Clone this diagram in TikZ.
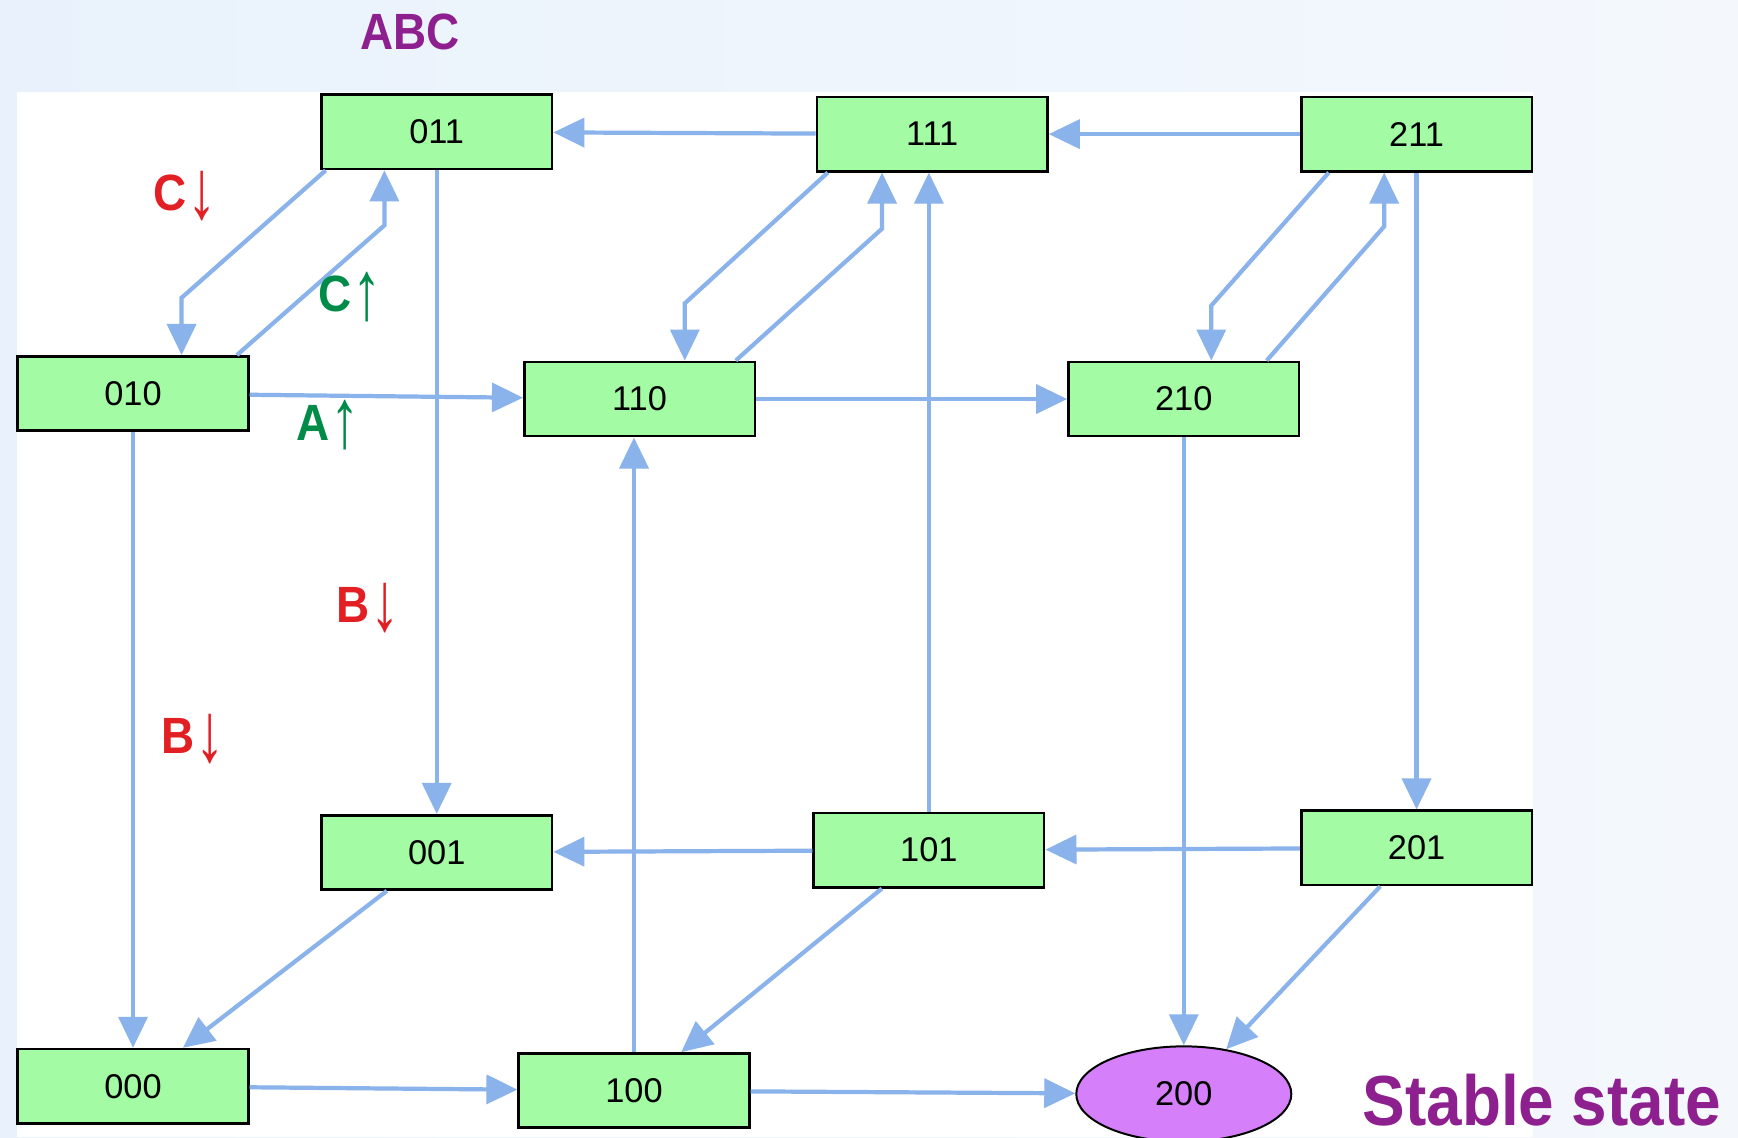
\documentclass[tikz,border=0pt]{standalone}
\usepackage{fontspec}
\usepackage{graphicx}
\setmainfont{Liberation Sans}
\newfontfamily\lblfont{Liberation Sans}[FakeStretch=0.9]
\newfontfamily\arrowfont{Liberation Sans}
\usetikzlibrary{arrows.meta,calc,shapes.geometric}
\definecolor{boxgreen}{RGB}{163,251,163}
\definecolor{stablepurple}{RGB}{213,128,250}
\definecolor{edgeblue}{RGB}{138,178,235}
\definecolor{titlepurple}{RGB}{142,31,142}
\definecolor{lblred}{RGB}{226,32,36}
\definecolor{lblgreen}{RGB}{0,140,72}
\definecolor{bgleft}{RGB}{233,242,252}
\definecolor{bgright}{RGB}{244,248,253}
\newcommand{\arr}[1]{\hspace{0.02em}\raisebox{-3.5pt}{\scalebox{1.15}[1.65]{\arrowfont\mdseries #1}}}
\begin{document}
\begin{tikzpicture}[x=0.5pt,y=-0.5pt,
  state/.style={rectangle, draw=black, line width=1.2pt, fill=boxgreen,
    minimum width=104pt, minimum height=33.5pt, inner sep=0pt,
    font=\fontsize{15.5}{18}\selectfont},
  stable/.style={ellipse, draw=black, line width=0.9pt, fill=stablepurple,
    minimum width=97pt, minimum height=43pt, inner sep=0pt,
    font=\fontsize{15.5}{18}\selectfont},
  edge/.style={draw=edgeblue, line width=1.9pt,
    -{Triangle[length=14pt,width=13pt]}},
  lbl/.style={inner sep=0pt, anchor=base west,
    font=\lblfont\bfseries\fontsize{23}{27}\selectfont},
  bigl/.style={inner sep=0pt, anchor=base west, text=titlepurple,
    font=\lblfont\bfseries\fontsize{32}{36}\selectfont}
]
\fill[left color=bgleft, right color=bgright] (0,0) rectangle (1568,1026);
\useasboundingbox (0,0) rectangle (1568,1026);
\fill[white] (15,83) rectangle (1383,1026);

% nodes
\node[state] (n011) at (394,119) {011};
\node[state] (n111) at (841,121) {111};
\node[state] (n211) at (1278,121) {211};
\node[state] (n010) at (120,355) {010};
\node[state] (n110) at (577,360) {110};
\node[state] (n210) at (1068,360) {210};
\node[state] (n001) at (394,769) {001};
\node[state] (n101) at (838,767) {101};
\node[state] (n201) at (1278,765) {201};
\node[state] (n000) at (120,980) {000};
\node[state] (n100) at (572,984) {100};
\node[stable] (n200) at (1068,987) {200};

% straight edges
\draw[edge] (n111) -- (n011);
\draw[edge] (n211) -- (n111);
\draw[edge] (n010) -- (n110);
\draw[edge] (n110) -- (n210);
\draw[edge] (n101) -- (n001);
\draw[edge] (n201) -- (n101);
\draw[edge] (n000) -- (n100);
\draw[edge] (n100) -- (n200);
\draw[edge] (n011) -- (n001);
\draw[edge] (n010) -- (n000);
\draw[edge] (n211) -- (n201);
\draw[edge] (n210) -- (n200);
\draw[edge] (n100.north) -- (n100.north |- n110.south);
\draw[edge] (n101.north) -- (n101.north |- n111.south);
\draw[edge] (n001) -- (n000);
\draw[edge] (n101) -- (n100);
\draw[edge] (n201) -- (n200);

% bent edges
\draw[edge] ($(n011.south west)+(5,0)$) -- ++(-130,115) -- ($(n010.north west)+(149,0)$);
\draw[edge] ($(n010.north west)+(199,0)$) -- ++(133,-117) -- ($(n011.south west)+(58,0)$);
\draw[edge] ($(n111.south west)+(11,0)$) -- ++(-129,118) -- ($(n110.north west)+(146,0)$);
\draw[edge] ($(n110.north west)+(192,0)$) -- ++(132,-119) -- ($(n111.south west)+(60,0)$);
\draw[edge] ($(n211.south west)+(26,0)$) -- ++(-106,120) -- ($(n210.north west)+(130,0)$);
\draw[edge] ($(n210.north west)+(180,0)$) -- ++(106,-121) -- ($(n211.south west)+(76,0)$);

% labels
\node[lbl, text=titlepurple] (tABC) at (325,45) {ABC};
\node[lbl, text=lblred] (lC1) at (138,190) {C\arr{↓}};
\node[lbl, text=lblgreen] (lC2) at (287,281) {C\arr{↑}};
\node[lbl, text=lblgreen] (lA) at (267,397) {A\arr{↑}};
\node[lbl, text=lblred] (lB1) at (303,562) {B\arr{↓}};
\node[lbl, text=lblred] (lB2) at (145,680) {B\arr{↓}};
\node[bigl] (tStable) at (1229,1015) {Stable state};
\end{tikzpicture}
\end{document}
